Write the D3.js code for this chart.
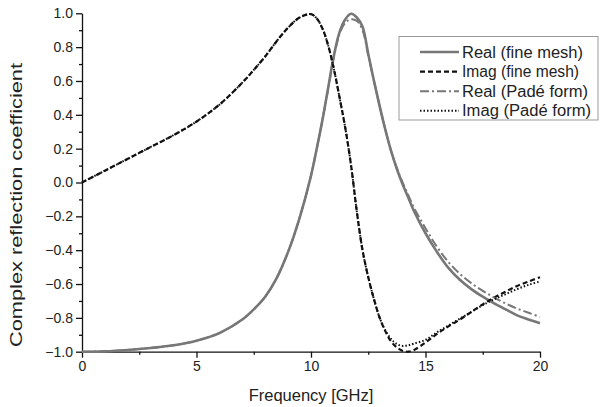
<!DOCTYPE html>
<html>
<head>
<meta charset="utf-8">
<script src="https://cdn.jsdelivr.net/npm/d3@7"></script>
<style>
  body { margin: 0; background: #fff; }
  text { font-family: "Liberation Sans", Arial, sans-serif; fill: #222; }
</style>
</head>
<body>
<div id="chart"></div>
<script>
// frequency samples (GHz)
var freq = [0, 1, 2, 3, 4, 5, 6, 7, 7.5, 8, 8.5, 9, 9.5, 10, 10.25, 10.5, 10.75, 11, 11.25, 11.5, 11.75,
            12, 12.25, 12.5, 12.75, 13, 13.25, 13.5, 13.75, 14, 14.25, 14.5, 15, 15.5, 16, 16.5, 17, 17.5,
            18, 18.5, 19, 19.5, 20];

var realFine = [-1.0, -0.998, -0.99, -0.978, -0.962, -0.935, -0.89, -0.81, -0.75, -0.675, -0.565, -0.41, -0.21, 0.04, 0.20, 0.37, 0.56, 0.75, 0.89, 0.965, 0.997,
                0.975, 0.92, 0.76, 0.60, 0.45, 0.31, 0.185, 0.08, -0.01, -0.09, -0.17, -0.30, -0.41, -0.505, -0.575, -0.63, -0.675,
                -0.715, -0.75, -0.785, -0.81, -0.832];

var imagFine = [0, 0.07, 0.14, 0.21, 0.28, 0.36, 0.46, 0.59, 0.665, 0.745, 0.835, 0.915, 0.975, 0.995, 0.97, 0.91, 0.81, 0.67, 0.50, 0.32, 0.10,
                -0.17, -0.40, -0.56, -0.69, -0.80, -0.88, -0.94, -0.975, -0.995, -1.0, -0.99, -0.945, -0.895, -0.85, -0.81, -0.765, -0.72,
                -0.68, -0.645, -0.612, -0.585, -0.56];

var realPade = [-1.0, -0.998, -0.99, -0.978, -0.962, -0.935, -0.89, -0.81, -0.75, -0.675, -0.565, -0.41, -0.21, 0.04, 0.20, 0.37, 0.55, 0.74, 0.88, 0.945, 0.965,
                0.955, 0.90, 0.75, 0.60, 0.45, 0.31, 0.185, 0.085, 0.0, -0.075, -0.15, -0.27, -0.38, -0.47, -0.54, -0.595, -0.64,
                -0.68, -0.715, -0.745, -0.77, -0.795];

var imagPade = [0, 0.07, 0.14, 0.21, 0.28, 0.36, 0.46, 0.59, 0.665, 0.745, 0.835, 0.915, 0.975, 0.995, 0.97, 0.91, 0.81, 0.67, 0.50, 0.32, 0.10,
                -0.17, -0.40, -0.56, -0.69, -0.80, -0.875, -0.925, -0.955, -0.966, -0.962, -0.952, -0.93, -0.885, -0.845, -0.805, -0.765, -0.725,
                -0.69, -0.66, -0.63, -0.605, -0.585];

var xTicks = [0, 5, 10, 15, 20];
var yTicks = [-1.0, -0.8, -0.6, -0.4, -0.2, 0.0, 0.2, 0.4, 0.6, 0.8, 1.0];

var series = [
    {name: "Real (fine mesh)", values: realFine, color: "#777", width: 2.6, dash: null, len: 121},
    {name: "Imag (fine mesh)", values: imagFine, color: "#111", width: 2.2, dash: "5,3", len: 117},
    {name: "Real (Padé form)", values: realPade, color: "#777", width: 2, dash: "9,3,2,3", len: 126},
    {name: "Imag (Padé form)", values: imagPade, color: "#111", width: 2, dash: "1.5,2", len: 129}
];

var margin = {top: 13.3, left: 82, right: 61, bottom: 55.3},
    width = 601 - margin.left - margin.right,
    height = 407 - margin.top - margin.bottom;

var svg = d3.select("#chart").append("svg")
    .attr("width", 601)
    .attr("height", 407);

var g = svg.append("g")
    .attr("transform", "translate(" + margin.left + "," + margin.top + ")");

var x = d3.scaleLinear().domain([0, 20]).range([0, width]);
var y = d3.scaleLinear().domain([-1, 1]).range([height, 0]);

// minor ticks
g.append("g")
    .attr("transform", "translate(0," + height + ")")
    .call(d3.axisBottom(x).tickValues(d3.range(2.5, 20, 5)).tickSize(3).tickFormat(""))
    .call(a => a.select(".domain").remove());
g.append("g")
    .call(d3.axisLeft(y).tickValues(d3.range(-0.9, 1, 0.2)).tickSize(3).tickFormat(""))
    .call(a => a.select(".domain").remove());

var xAxis = g.append("g")
    .attr("transform", "translate(0," + height + ")")
    .call(d3.axisBottom(x).tickValues(xTicks).tickSize(6).tickSizeOuter(0).tickPadding(3).tickFormat(d3.format("d")));
var yAxis = g.append("g")
    .call(d3.axisLeft(y).tickValues(yTicks).tickSize(6).tickSizeOuter(0).tickPadding(3).tickFormat(d3.format(".1f")));

g.selectAll(".tick line, .domain").attr("stroke", "#111").attr("stroke-width", 1.3);
g.selectAll(".tick text").style("font-size", "14px").attr("fill", "#222");

var line = d3.line()
    .x((d, i) => x(freq[i]))
    .y(d => y(d))
    .curve(d3.curveCatmullRom);

series.forEach(function(s) {
    g.append("path")
        .datum(s.values)
        .attr("fill", "none")
        .attr("stroke", s.color)
        .attr("stroke-width", s.width)
        .attr("stroke-dasharray", s.dash)
        .attr("d", line);
});

// axis titles
svg.append("text")
    .attr("x", margin.left + width / 2)
    .attr("y", 401)
    .attr("text-anchor", "middle")
    .style("font-size", "16.5px")
    .text("Frequency [GHz]");

svg.append("text")
    .attr("transform", "translate(22,205) rotate(-90)")
    .attr("text-anchor", "middle")
    .attr("textLength", 284)
    .attr("lengthAdjust", "spacingAndGlyphs")
    .style("font-size", "16px")
    .text("Complex reflection coefficient");

// legend
var legend = svg.append("g");
legend.append("rect")
    .attr("x", 399).attr("y", 36.5)
    .attr("width", 199).attr("height", 83.5)
    .attr("fill", "#fff")
    .attr("stroke", "#999")
    .attr("stroke-width", 1);

series.forEach(function(s, i) {
    var yy = 52 + i * 19.6;
    legend.append("line")
        .attr("x1", 420).attr("x2", 459)
        .attr("y1", yy).attr("y2", yy)
        .attr("stroke", s.color)
        .attr("stroke-width", s.width)
        .attr("stroke-dasharray", s.dash);
    legend.append("text")
        .attr("x", 462)
        .attr("y", yy + 5.5)
        .attr("textLength", s.len)
        .attr("lengthAdjust", "spacingAndGlyphs")
        .style("font-size", "16px")
        .text(s.name);
});
</script>
</body>
</html>
